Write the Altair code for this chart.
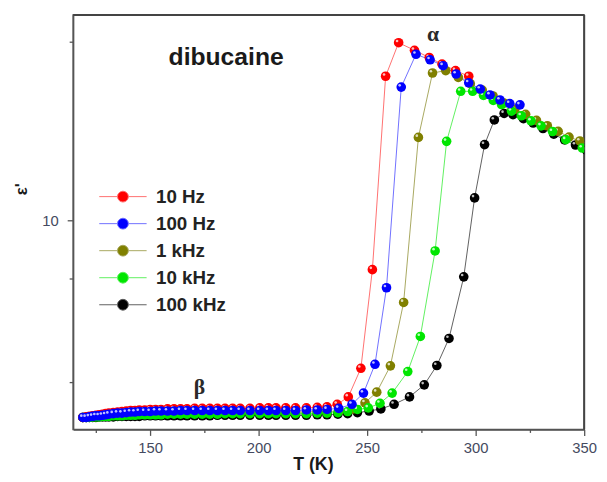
import altair as alt
import pandas as pd

FREQS = ["10 Hz", "100 Hz", "1 kHz", "10 kHz", "100 kHz"]
BALL_COLORS = ["#ff0000", "#0000ff", "#808000", "#00e600", "#000000"]
LINE_COLORS = ["#ff7070", "#7070ff", "#a8a860", "#60f060", "#606060"]
DRAW_ORDER = ["100 kHz", "1 kHz", "10 kHz", "10 Hz", "100 Hz"]

T_LOW = [119, 120.5, 122, 123.5, 125, 126.5, 128, 129.5, 131, 133, 135, 137, 139, 141,
         143, 145, 147.5, 150, 152.5, 155, 158, 161, 164, 167, 170.5, 174, 177.5, 181,
         184.5, 188, 191.5, 196, 200.5, 204.5, 208, 212.5, 217, 222, 227, 231.5]

EPS_LOW = {
    "10 Hz": [2.97, 2.98, 2.99, 3.00, 3.01, 3.02, 3.03, 3.04, 3.05, 3.06, 3.07, 3.08, 3.09, 3.10,
              3.10, 3.11, 3.11, 3.12, 3.12, 3.12, 3.13, 3.13, 3.13, 3.13, 3.14, 3.14, 3.14, 3.14,
              3.14, 3.14, 3.14, 3.14, 3.15, 3.15, 3.15, 3.15, 3.15, 3.15, 3.16, 3.17],
    "100 Hz": [2.97, 2.97, 2.98, 2.99, 3.00, 3.00, 3.01, 3.02, 3.03, 3.04, 3.05, 3.05, 3.06, 3.07,
               3.07, 3.08, 3.08, 3.08, 3.09, 3.09, 3.09, 3.09, 3.10, 3.10, 3.10, 3.10, 3.10, 3.10,
               3.10, 3.10, 3.10, 3.10, 3.10, 3.10, 3.10, 3.10, 3.10, 3.11, 3.11, 3.12],
    "1 kHz": [2.97, 2.97, 2.98, 2.98, 2.99, 2.99, 3.00, 3.00, 3.01, 3.02, 3.02, 3.03, 3.03, 3.04,
              3.04, 3.05, 3.05, 3.05, 3.06, 3.06, 3.06, 3.06, 3.06, 3.07, 3.07, 3.07, 3.07, 3.07,
              3.07, 3.07, 3.07, 3.07, 3.07, 3.07, 3.07, 3.07, 3.07, 3.07, 3.08, 3.08],
    "10 kHz": [2.97, 2.97, 2.97, 2.98, 2.98, 2.98, 2.99, 2.99, 2.99, 3.00, 3.00, 3.00, 3.01, 3.01,
               3.01, 3.02, 3.02, 3.02, 3.02, 3.02, 3.03, 3.03, 3.03, 3.03, 3.03, 3.03, 3.03, 3.03,
               3.04, 3.04, 3.04, 3.04, 3.04, 3.04, 3.04, 3.04, 3.04, 3.04, 3.05, 3.05],
    "100 kHz": [2.97, 2.97, 2.97, 2.97, 2.97, 2.98, 2.98, 2.98, 2.98, 2.98, 2.99, 2.99, 2.99, 2.99,
                2.99, 2.99, 3.00, 3.00, 3.00, 3.00, 3.00, 3.00, 3.00, 3.00, 3.00, 3.00, 3.00, 3.01,
                3.01, 3.01, 3.01, 3.01, 3.01, 3.01, 3.01, 3.01, 3.01, 3.01, 3.02, 3.02],
}

T_HIGH = {
    "10 Hz": [236.2, 241.3, 247.1, 252.4, 258.5, 264.5, 271.8, 278.6, 284.5, 290.7, 296.8],
    "100 Hz": [236.9, 243.0, 248.3, 253.6, 258.9, 265.7, 272.5, 279.0, 285.0, 291.0, 296.8,
               302.1, 306.6, 311.2, 315.7, 320.4],
    "1 kHz": [237, 243.5, 249.0, 254.4, 260.7, 266.8, 273.6, 280.1, 286.2, 292, 297.5, 303,
              308, 313, 318, 323, 328, 333, 338, 343, 348, 353],
    "10 kHz": [236.5, 241, 245.5, 250.5, 255.9, 261.5, 268.7, 274.5, 281.3, 286.6, 293.1, 298.6,
               303.6, 308.1, 311.9, 316.5, 321.0, 325.5, 330.1, 335.4, 341.5, 349.1],
    "100 kHz": [236.5, 241, 245.5, 250.9, 256.3, 262.4, 269.5, 276.3, 282.1, 287.7, 294.5, 299.5,
                304.1, 308.6, 313.1, 317.2, 322, 326.5, 331, 336, 341, 346, 351],
}
EPS_HIGH = {
    "10 Hz": [3.22, 3.37, 4.02, 7.38, 24.28, 29.85, 28.49, 27.25, 26.16, 25.14, 24.28],
    "100 Hz": [3.14, 3.22, 3.45, 4.12, 6.60, 22.71, 27.80, 26.87, 25.91, 24.62, 23.32, 22.44,
               21.64, 20.98, 20.52, 20.36],
    "1 kHz": [3.09, 3.13, 3.25, 3.47, 4.08, 6.03, 16.66, 24.77, 25.14, 24.1, 23.2, 22.3, 21.5,
              20.6, 19.8, 19.2, 18.5, 17.9, 17.3, 16.7, 16.3, 15.9],
    "10 kHz": [3.06, 3.08, 3.12, 3.15, 3.24, 3.45, 3.94, 4.89, 8.28, 16.26, 22.13, 22.13, 21.57,
               20.92, 20.40, 19.59, 19.04, 18.44, 17.89, 17.28, 16.43, 15.61],
    "100 kHz": [3.03, 3.04, 3.06, 3.09, 3.13, 3.22, 3.37, 3.63, 4.09, 4.83, 7.06, 11.48, 15.94,
                18.55, 19.31, 19.16, 18.7, 18.2, 17.6, 17.0, 16.4, 15.9, 15.4],
}

X_DOMAIN = [114.5, 350]
Y_DOMAIN = [2.758, 35.39]
X_TICKS = [125, 150, 175, 200, 225, 250, 275, 300, 325, 350]
Y_TICKS = [3.7, 7, 10, 30]

NOTE_TEXT = ["dibucaine"]
NOTE_T = [185.0]
NOTE_EPS = [25.95]
GREEK_TEXT = ["\u03b1", "\u03b2"]
GREEK_T = [280.4, 172.7]
GREEK_EPS = [30.12, 3.43]

rows = []
for f in DRAW_ORDER:
    for t, e in zip(T_LOW, EPS_LOW[f]):
        rows.append({"freq": f, "T": t, "eps": e})
    for t, e in zip(T_HIGH[f], EPS_HIGH[f]):
        rows.append({"freq": f, "T": t, "eps": e})
df = pd.DataFrame(rows)

W, H = 518, 420
FONT = "Liberation Sans"
AXIS_COL = "#555555"
FRAME_COL = "#444444"

xscale = alt.Scale(domain=X_DOMAIN, nice=False, zero=False)
yscale = alt.Scale(type="log", domain=Y_DOMAIN, nice=False, zero=False)

x_axis = alt.Axis(
    values=X_TICKS, title="T (K)", labelExpr="datum.value % 50 == 0 ? datum.label : ''",
    tickSize={"condition": {"test": "datum.value % 50 != 0", "value": 3}, "value": 6},
    grid=False, labelFlush=False, labelOverlap=False, labelFont=FONT, labelFontSize=15,
    labelColor="#454a60", labelPadding=5, domainColor=AXIS_COL, domainWidth=1.5,
    tickColor=AXIS_COL, tickWidth=1.3, titleFont=FONT, titleFontSize=18,
    titleFontWeight="bold", titleColor="#1a1a1a", titleX=243, titleY=36,
    titleBaseline="middle", titleAlign="center", format="d",
)
y_axis = alt.Axis(
    values=Y_TICKS, title="\u03b5'", labelExpr="datum.value == 10 ? '10' : ''",
    tickSize={"condition": {"test": "datum.value == 10", "value": 6}, "value": 4},
    grid=False, labelOverlap=False, labelFont=FONT, labelFontSize=15, labelColor="#454a60",
    labelPadding=9, domainColor=AXIS_COL, domainWidth=1.5, tickColor=AXIS_COL, tickWidth=1.3,
    titleFont=FONT, titleFontSize=17, titleFontWeight="bold", titleColor="#1a1a1a",
    titleX=-52, titleY=176, titleAngle=270, titleBaseline="middle", titleAlign="center",
)

SYMBOL = ("M-1.92,0L-0.44,0M0.44,0L1.92,0M-0.44,0A0.44,0.44,0,1,1,0.44,0"
          "A0.44,0.44,0,1,1,-0.44,0Z")
legend = alt.Legend(
    title=None, orient="none", legendX=37.5, legendY=171, symbolType=SYMBOL,
    symbolSize=625, symbolStrokeWidth=1, symbolOffset=0, labelOffset=20.5,
    rowPadding=4.4, padding=0, labelFont=FONT, labelFontSize=19, labelFontWeight="bold",
    labelColor="#222222", labelLimit=300, symbolOpacity=1,
)

base = alt.Chart(df)
x_enc = alt.X("T:Q", scale=xscale, axis=x_axis)
y_enc = alt.Y("eps:Q", scale=yscale, axis=y_axis)

# plot frame: top and right edges drawn as rules through the scales at the domain limits
frame_top_df = pd.DataFrame({"t0": [X_DOMAIN[0]], "t1": [X_DOMAIN[1]], "e": [Y_DOMAIN[1]]})
frame_right_df = pd.DataFrame({"t": [X_DOMAIN[1]], "e0": [Y_DOMAIN[0]], "e1": [Y_DOMAIN[1]]})
frame_top = alt.Chart(frame_top_df).mark_rule(color=FRAME_COL, strokeWidth=2).encode(
    x=alt.X("t0:Q", scale=xscale, axis=x_axis), x2="t1:Q",
    y=alt.Y("e:Q", scale=yscale, axis=y_axis),
)
frame_right = alt.Chart(frame_right_df).mark_rule(color=FRAME_COL, strokeWidth=2).encode(
    x=alt.X("t:Q", scale=xscale, axis=x_axis),
    y=alt.Y("e0:Q", scale=yscale, axis=y_axis), y2="e1:Q",
)

lines = base.mark_line(strokeWidth=1, clip=True).encode(
    x=x_enc, y=y_enc, detail="freq:N",
    stroke=alt.Stroke("freq:N", scale=alt.Scale(domain=FREQS, range=LINE_COLORS), legend=legend),
)

layers = [frame_top, frame_right, lines]
for f in DRAW_ORDER:
    sub = base.transform_filter(alt.datum.freq == f)
    layers.append(sub.mark_point(filled=True, shape="circle", size=95, opacity=1, clip=True).encode(
        x=x_enc, y=y_enc,
        fill=alt.Fill("freq:N", scale=alt.Scale(domain=FREQS, range=BALL_COLORS), legend=legend),
    ))
    layers.append(sub.mark_point(filled=True, shape="circle", size=7, color="white", opacity=0.75,
                                 xOffset=-1.6, yOffset=-1.8, clip=True).encode(x=x_enc, y=y_enc))

greek_df = pd.DataFrame({"text": GREEK_TEXT, "T": GREEK_T, "eps": GREEK_EPS})
greek = alt.Chart(greek_df).mark_text(font="Liberation Serif", fontSize=22, fontWeight="bold",
                                      color="#2a2a2a", align="center", baseline="alphabetic").encode(
    x=x_enc, y=y_enc, text="text:N")

note_df = pd.DataFrame({"text": NOTE_TEXT, "T": NOTE_T, "eps": NOTE_EPS})
note = alt.Chart(note_df).mark_text(font=FONT, fontSize=25, fontWeight="bold", color="#1a1a1a",
                                    align="center", baseline="alphabetic").encode(
    x=x_enc, y=y_enc, text="text:N")
layers += [greek, note]

chart = alt.layer(*layers).properties(
    width=W, height=H,
    autosize=alt.AutoSizeParams(type="none"),
    padding={"left": 66, "top": 4, "right": 15, "bottom": 44},
    background="white",
).configure_view(stroke=AXIS_COL, strokeWidth=1.5)

chart.save("out.html", embed_options={"renderer": "svg", "actions": False})
